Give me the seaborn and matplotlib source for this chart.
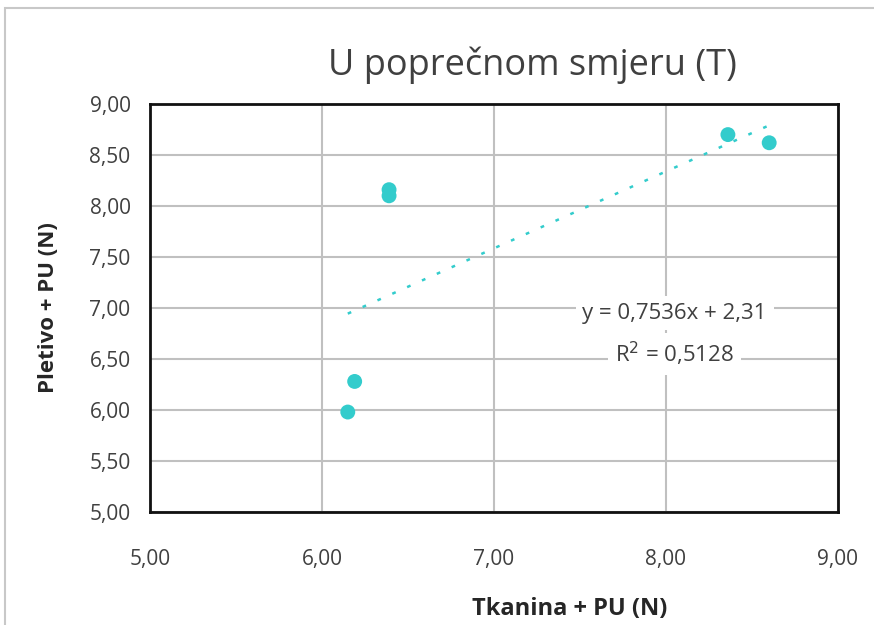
"""Scatter of fabric vs knit tensile values with linear trendline (transverse direction)."""

import matplotlib
matplotlib.use("Agg")
import matplotlib.pyplot as plt
import seaborn as sns
from matplotlib.ticker import FuncFormatter, MultipleLocator
from matplotlib.patches import Rectangle

tkanina = [6.15, 6.19, 6.39, 6.39, 8.36, 8.60]
pletivo = [5.98, 6.28, 8.16, 8.10, 8.70, 8.62]
slope = 0.7536
intercept = 2.31
r2 = 0.5128

color = "#33CCCC"

sns.set_style("white")
plt.rcParams["font.family"] = ["Open Sans", "DejaVu Sans"]

fig = plt.figure(figsize=(8.74, 6.25), dpi=100)
ax = fig.add_axes([0.1716, 0.1808, 0.7872, 0.6528])

# outer chart frame
fig.patches.append(Rectangle((5 / 874, -0.1), 1.1, 1 - 8 / 625 + 0.1,
                             transform=fig.transFigure, fill=False,
                             edgecolor="#c8c8c8", linewidth=1.5))

sns.scatterplot(x=tkanina, y=pletivo, ax=ax, color=color, s=115,
                edgecolor="none", zorder=3)

# trendline
x0, x1 = min(tkanina), max(tkanina)
ax.plot([x0, x1], [slope * x0 + intercept, slope * x1 + intercept],
        color=color, linestyle=(0, (1.5, 5)), linewidth=1.8, zorder=2)

ax.set_xlim(5, 9)
ax.set_ylim(5, 9)
ax.xaxis.set_major_locator(MultipleLocator(1))
ax.yaxis.set_major_locator(MultipleLocator(0.5))
fmt = FuncFormatter(lambda v, p: f"{v:.2f}".replace(".", ","))
ax.xaxis.set_major_formatter(fmt)
ax.yaxis.set_major_formatter(fmt)
ax.grid(True, color="#c0c0c0", linewidth=1.5)
ax.set_axisbelow(True)
for sp in ax.spines.values():
    sp.set_visible(True)
    sp.set_color("#111111")
    sp.set_linewidth(2)
ax.tick_params(axis="both", length=0, labelsize=15, colors="#404040")
ax.tick_params(axis="x", pad=27)
ax.tick_params(axis="y", pad=14)

ax.set_xlabel("Tkanina + PU (N)", fontsize=17, fontweight="bold")
ax.xaxis.set_label_coords(0.61, -0.208)
ax.set_ylabel("Pletivo + PU (N)", fontsize=16, fontweight="bold", labelpad=22)

fig.text(532 / 874, 1 - 65 / 625, "U poprečnom smjeru (T)", fontsize=26,
         color="#404040", ha="center", va="center")

ax.text(8.05, 6.95, f"y = {slope:.4f}x + {intercept:.2f}".replace(".", ","),
        fontsize=16, color="#404040", ha="center", va="center",
        bbox=dict(facecolor="white", edgecolor="none", pad=5))
ax.text(8.05, 6.55, f"R$^2$ = {r2:.4f}".replace(".", ","),
        fontsize=16, color="#404040", ha="center", va="center",
        bbox=dict(facecolor="white", edgecolor="none", pad=5))

fig.savefig("out.png", dpi=100)
